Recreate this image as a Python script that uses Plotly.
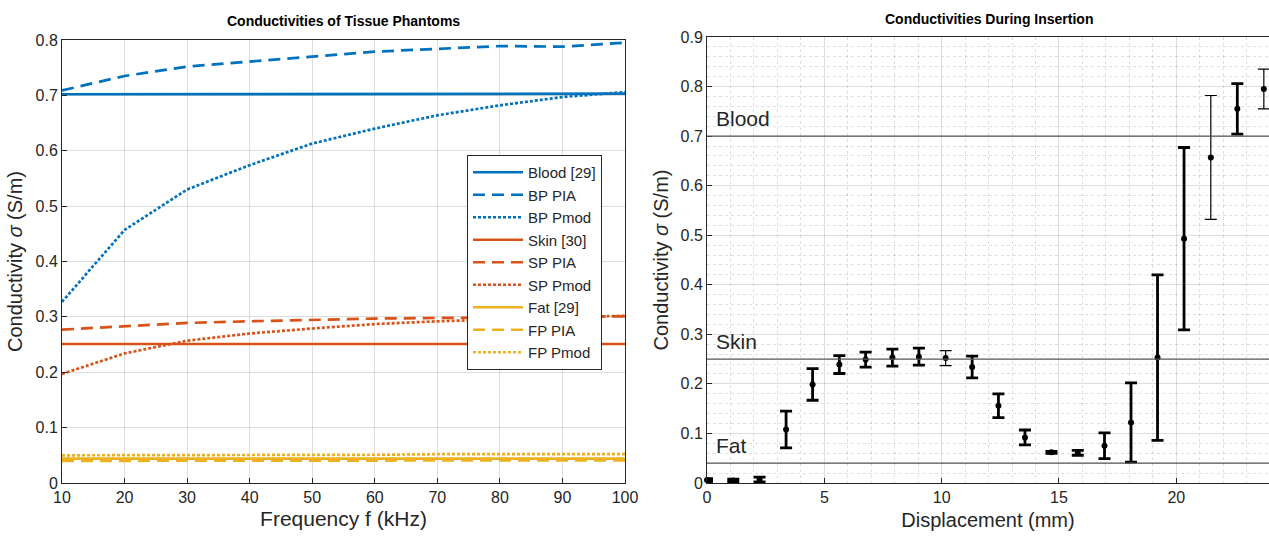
import plotly.graph_objects as go

# ---------------- Left chart data (conductivity vs frequency) ----------------
freq_khz = [10, 20, 30, 40, 50, 60, 70, 80, 90, 100]

blood_ref = [0.702, 0.702, 0.702, 0.702, 0.702, 0.702, 0.702, 0.703, 0.703, 0.703]
bp_pia = [0.709, 0.735, 0.752, 0.761, 0.770, 0.779, 0.784, 0.789, 0.788, 0.795]
bp_pmod = [0.327, 0.457, 0.530, 0.574, 0.613, 0.640, 0.664, 0.682, 0.697, 0.706]

skin_ref = [0.251, 0.251, 0.251, 0.251, 0.251, 0.251, 0.251, 0.251, 0.251, 0.251]
sp_pia = [0.277, 0.283, 0.289, 0.292, 0.295, 0.297, 0.298, 0.299, 0.300, 0.301]
sp_pmod = [0.197, 0.234, 0.257, 0.270, 0.279, 0.287, 0.292, 0.296, 0.299, 0.302]

fat_ref = [0.044, 0.044, 0.044, 0.044, 0.044, 0.044, 0.044, 0.044, 0.044, 0.044]
fp_pia = [0.040, 0.040, 0.040, 0.040, 0.040, 0.041, 0.041, 0.041, 0.041, 0.041]
fp_pmod = [0.050, 0.050, 0.051, 0.051, 0.051, 0.051, 0.052, 0.052, 0.052, 0.052]

series_names = ["Blood [29]", "BP PIA", "BP Pmod", "Skin [30]", "SP PIA", "SP Pmod",
                "Fat [29]", "FP PIA", "FP Pmod"]
series_values = [blood_ref, bp_pia, bp_pmod, skin_ref, sp_pia, sp_pmod,
                 fat_ref, fp_pia, fp_pmod]

# ---------------- Right chart data (conductivity during insertion) ----------------
displacement_mm = [0.0, 1.12, 2.24, 3.37, 4.5, 5.64, 6.76, 7.9, 9.03, 10.17, 11.3,
                   12.42, 13.55, 14.68, 15.8, 16.94, 18.07, 19.2, 20.33, 21.47, 22.6, 23.73]
sigma_mean = [0.006, 0.005, 0.007, 0.108, 0.199, 0.239, 0.249, 0.253, 0.255, 0.252, 0.234,
              0.156, 0.092, 0.062, 0.061, 0.075, 0.122, 0.253, 0.493, 0.657, 0.755, 0.795]
sigma_err = [0.003, 0.003, 0.005, 0.037, 0.032, 0.018, 0.015, 0.017, 0.017, 0.015, 0.022,
             0.024, 0.015, 0.002, 0.005, 0.026, 0.080, 0.167, 0.184, 0.125, 0.051, 0.040]

ref_names = ["Blood", "Skin", "Fat"]
ref_values = [0.70, 0.25, 0.04]

# ---------------- Styles ----------------
BLUE = "#0072BD"
ORANGE = "#D95319"
YELLOW = "#EDB120"
series_colors = [BLUE, BLUE, BLUE, ORANGE, ORANGE, ORANGE, YELLOW, YELLOW, YELLOW]
series_dash = ["solid", "12px,7px", "3px,2px"] * 3
thin_bar_idx = {9, 19, 21}

FONT = "Liberation Sans, Arial, Helvetica, sans-serif"
TXT = "#262626"
GRID = "rgba(0,0,0,0.13)"
W, H = 1269, 538
TICK_SIZE = 16
LABEL_SIZE = 20

fig = go.Figure()

for name, vals, col, dash in zip(series_names, series_values, series_colors, series_dash):
    fig.add_trace(go.Scatter(
        x=freq_khz, y=vals, name=name, mode="lines",
        line=dict(color=col, width=2.7, dash=dash),
        xaxis="x", yaxis="y", showlegend=True,
    ))

# error bar traces
for thin in (False, True):
    idx = [i for i in range(len(displacement_mm)) if (i in thin_bar_idx) == thin]
    fig.add_trace(go.Scatter(
        x=[displacement_mm[i] for i in idx],
        y=[sigma_mean[i] for i in idx],
        mode="markers",
        marker=dict(color="black", size=6),
        error_y=dict(type="data", array=[sigma_err[i] for i in idx], visible=True,
                     color="black", thickness=1.2 if thin else 2.8, width=6),
        xaxis="x2", yaxis="y2", showlegend=False, cliponaxis=False,
    ))

# plot geometry in pixels
L_x0, L_x1 = 62, 625
L_y0, L_y1 = 40, 483
R_x0, R_x1 = 707, 1270
R_y0, R_y1 = 37, 483

def dx(a, b):
    return [a / W, min(b / W, 1.0)]

def dy(top, bot):
    return [1 - bot / H, 1 - top / H]

axis_common = dict(
    showline=True, linecolor=TXT, linewidth=1, mirror=True,
    ticks="inside", ticklen=5, tickcolor=TXT, tickwidth=1,
    tickfont=dict(family=FONT, size=TICK_SIZE, color=TXT),
    showgrid=True, gridcolor=GRID, gridwidth=1, zeroline=False,
    automargin=False,
)
title_font = dict(family=FONT, size=LABEL_SIZE, color=TXT)

fig.update_layout(
    width=W, height=H,
    margin=dict(l=0, r=0, t=0, b=0),
    paper_bgcolor="white", plot_bgcolor="white",
    font=dict(family=FONT, color=TXT),
    xaxis=dict(domain=dx(L_x0, L_x1), range=[10, 100], dtick=10, tick0=10,
               title=dict(text="Frequency f (kHz)", standoff=6,
                          font=dict(family=FONT, size=21, color=TXT)),
               anchor="y", **axis_common),
    yaxis=dict(domain=dy(L_y0, L_y1), range=[0, 0.8], dtick=0.1,
               title=dict(text="Conductivity <i>σ</i> (S/m)", standoff=7, font=title_font),
               anchor="x", **axis_common),
    xaxis2=dict(domain=dx(R_x0, R_x1), range=[0, 23.95], dtick=5, tick0=0,
                minor=dict(dtick=1, showgrid=True, gridcolor="rgba(0,0,0,0.13)",
                           griddash="dot", ticks=""),
                title=dict(text="Displacement (mm)", standoff=7, font=title_font),
                anchor="y2", **axis_common),
    yaxis2=dict(domain=dy(R_y0, R_y1), range=[0, 0.9], dtick=0.1,
                minor=dict(dtick=0.02, showgrid=True, gridcolor="rgba(0,0,0,0.13)",
                           griddash="dot", ticks=""),
                title=dict(text="Conductivity <i>σ</i> (S/m)", standoff=6, font=title_font),
                anchor="x2", **axis_common),
    legend=dict(x=467 / W, y=1 - 155 / H, xanchor="left", yanchor="top",
                bgcolor="white", bordercolor=TXT, borderwidth=1,
                font=dict(family=FONT, size=15, color=TXT),
                itemwidth=50, tracegroupgap=0),
)

# reference lines on right chart
for name, val in zip(ref_names, ref_values):
    fig.add_shape(type="line", xref="x2 domain", yref="y2", x0=0, x1=1, y0=val, y1=val,
                  line=dict(color="#555555", width=1.2), layer="above")
    fig.add_annotation(xref="x2", yref="y2", x=0.3, y=val, text=name, showarrow=False,
                       xanchor="left", yanchor="bottom", yshift=4,
                       font=dict(family=FONT, size=21, color=TXT))

# titles
fig.add_annotation(xref="paper", yref="paper", x=(L_x0 + L_x1) / 2 / W, y=1 - 21 / H,
                   text="<b>Conductivities of Tissue Phantoms</b>", showarrow=False,
                   xanchor="center", yanchor="middle",
                   font=dict(family=FONT, size=14, color="black"))
fig.add_annotation(xref="paper", yref="paper", x=(R_x0 + R_x1) / 2 / W, y=1 - 19 / H,
                   text="<b>Conductivities During Insertion</b>", showarrow=False,
                   xanchor="center", yanchor="middle",
                   font=dict(family=FONT, size=14, color="black"))

fig.write_html("out.html")
